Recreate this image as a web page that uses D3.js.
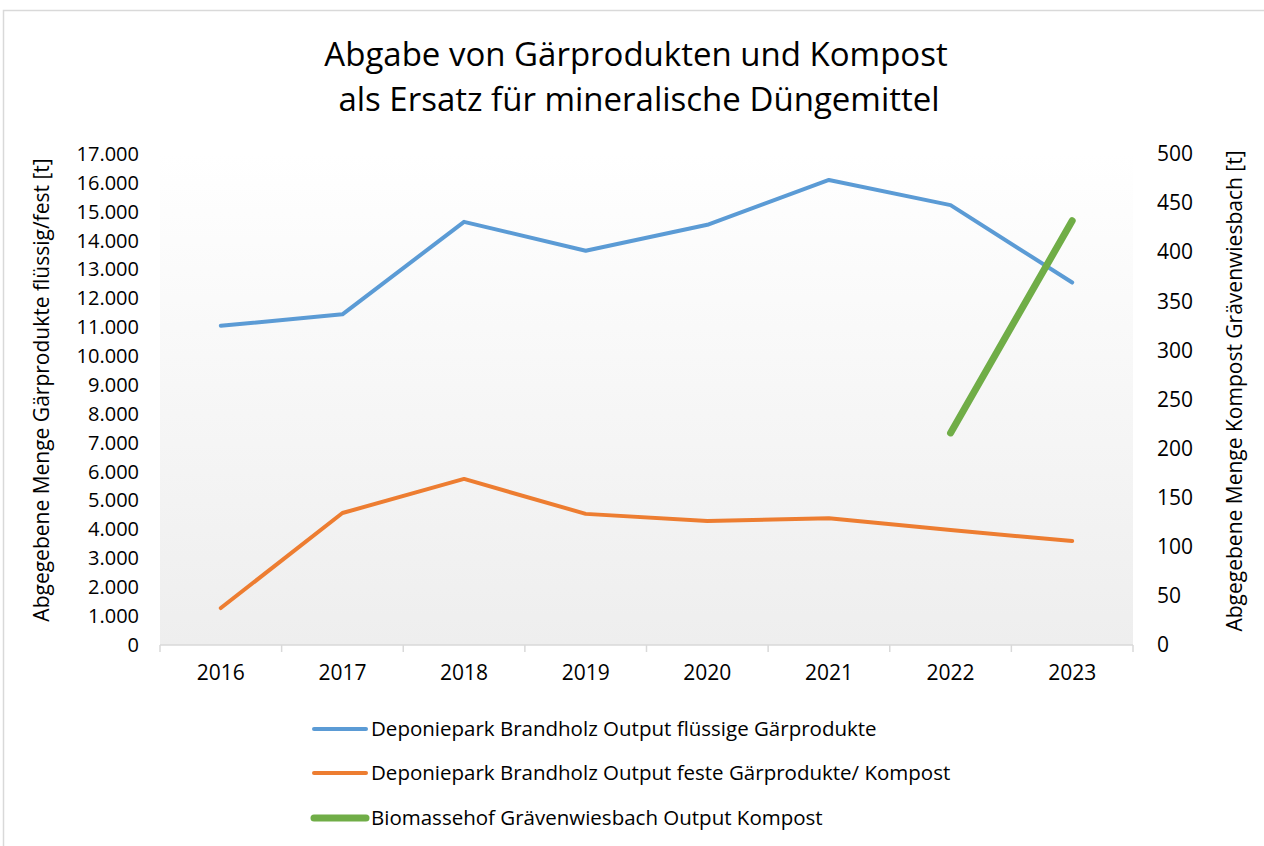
<!DOCTYPE html>
<html>
<head>
<meta charset="utf-8">
<script src="https://cdn.jsdelivr.net/npm/d3@7"></script>
<style>
  body { margin: 0; background: #fff; }
  svg { display: block; font-family: "Open Sans", sans-serif; }
</style>
</head>
<body>
<script>
// chart data
const years = ["2016", "2017", "2018", "2019", "2020", "2021", "2022", "2023"];
const fluessig = [11050, 11450, 14650, 13650, 14550, 16100, 15230, 12550];
const fest = [1280, 4570, 5750, 4540, 4290, 4390, 3980, 3600];
const kompost = [null, null, null, null, null, null, 216, 432];
const leftTicks = d3.range(0, 17001, 1000);
const rightTicks = d3.range(0, 501, 50);

const seriesNames = [
  "Deponiepark Brandholz Output flüssige Gärprodukte",
  "Deponiepark Brandholz Output feste Gärprodukte/ Kompost",
  "Biomassehof Grävenwiesbach Output Kompost"
];

const width = 1264, height = 846;
const plot = {left: 160, right: 1133, top: 154, bottom: 645};

const de = d3.formatLocale({decimal: ",", thousands: ".", grouping: [3], currency: ["", " €"]});
const fmt = de.format(",");

const svg = d3.select("body").append("svg")
  .attr("width", width)
  .attr("height", height);

// plot area gradient
const grad = svg.append("defs").append("linearGradient")
  .attr("id", "plotbg")
  .attr("x1", 0).attr("y1", 0).attr("x2", 0).attr("y2", 1);
grad.append("stop").attr("offset", "0%").attr("stop-color", "#ffffff");
grad.append("stop").attr("offset", "100%").attr("stop-color", "#eeeeee");

// outer chart border
svg.append("rect")
  .attr("x", 3.5).attr("y", 10.5)
  .attr("width", 1400).attr("height", 1000)
  .attr("fill", "#fff")
  .attr("stroke", "#d9d9d9")
  .attr("stroke-width", 1.5);

svg.append("rect")
  .attr("x", plot.left).attr("y", plot.top)
  .attr("width", plot.right - plot.left)
  .attr("height", plot.bottom - plot.top)
  .attr("fill", "url(#plotbg)");

const x = d3.scaleBand().domain(years).range([plot.left, plot.right]);
const yL = d3.scaleLinear().domain([0, 17000]).range([plot.bottom, plot.top]);
const yR = d3.scaleLinear().domain([0, 500]).range([plot.bottom, plot.top]);

// title
svg.append("text")
  .attr("x", 636).attr("y", 66)
  .attr("text-anchor", "middle")
  .style("font-size", "33px")
  .attr("fill", "#000")
  .text("Abgabe von Gärprodukten und Kompost");
svg.append("text")
  .attr("x", 639).attr("y", 111)
  .attr("text-anchor", "middle")
  .style("font-size", "33px")
  .attr("fill", "#000")
  .text("als Ersatz für mineralische Düngemittel");

// left axis
const leftAxis = svg.append("g")
  .attr("transform", `translate(${plot.left},0)`)
  .call(d3.axisLeft(yL).tickValues(leftTicks).tickFormat(fmt).tickSize(0).tickPadding(21));
leftAxis.select(".domain").remove();
leftAxis.selectAll("text")
  .style("font-size", "20px")
  .style("font-family", "Open Sans")
  .attr("fill", "#000");

// right axis
const rightAxis = svg.append("g")
  .attr("transform", `translate(${plot.right},0)`)
  .call(d3.axisRight(yR).tickValues(rightTicks).tickSize(0).tickPadding(24));
rightAxis.select(".domain").remove();
rightAxis.selectAll("text")
  .style("font-size", "21px")
  .style("font-family", "Open Sans")
  .attr("fill", "#000");

// bottom axis
const bottomAxis = svg.append("g")
  .attr("transform", `translate(0,${plot.bottom})`)
  .call(d3.axisBottom(x).tickSize(0).tickPadding(20));
bottomAxis.select(".domain").remove();
bottomAxis.selectAll("text")
  .style("font-size", "21px")
  .style("font-family", "Open Sans")
  .attr("fill", "#000");

svg.append("line")
  .attr("x1", plot.left).attr("x2", plot.right)
  .attr("y1", plot.bottom).attr("y2", plot.bottom)
  .attr("stroke", "#d9d9d9").attr("stroke-width", 1.5);

const bounds = years.map(d => x(d)).concat([plot.right]);
svg.append("g").selectAll("line")
  .data(bounds)
  .join("line")
  .attr("x1", d => d).attr("x2", d => d)
  .attr("y1", plot.bottom).attr("y2", plot.bottom + 7)
  .attr("stroke", "#d9d9d9").attr("stroke-width", 1.5);

// axis titles
svg.append("text")
  .attr("transform", "translate(49,390) rotate(-90)")
  .attr("text-anchor", "middle")
  .style("font-size", "21px")
  .attr("fill", "#000")
  .text("Abgegebene Menge Gärprodukte flüssig/fest [t]");
svg.append("text")
  .attr("transform", "translate(1242,391) rotate(-90)")
  .attr("text-anchor", "middle")
  .style("font-size", "21px")
  .attr("fill", "#000")
  .text("Abgegebene Menge Kompost Grävenwiesbach [t]");

// lines
const cx = d => x(d) + x.bandwidth() / 2;
const series = [
  {values: fluessig, scale: yL, color: "#5b9bd5", w: 4},
  {values: fest, scale: yL, color: "#ed7d31", w: 4},
  {values: kompost, scale: yR, color: "#70ad47", w: 7}
];

series.forEach(s => {
  const line = d3.line()
    .defined(d => d[1] != null)
    .x(d => cx(d[0]))
    .y(d => s.scale(d[1]));
  svg.append("path")
    .datum(years.map((y, i) => [y, s.values[i]]))
    .attr("d", line)
    .attr("fill", "none")
    .attr("stroke", s.color)
    .attr("stroke-width", s.w)
    .attr("stroke-linecap", "round")
    .attr("stroke-linejoin", "round");
});

// legend
const legend = svg.append("g");
const legendY = [729, 773, 818];
series.forEach((s, i) => {
  const g = legend.append("g").attr("transform", `translate(0,${legendY[i]})`);
  g.append("line")
    .attr("x1", 314).attr("x2", 366)
    .attr("stroke", s.color)
    .attr("stroke-width", s.w)
    .attr("stroke-linecap", "round");
  g.append("text")
    .attr("x", 371).attr("y", 7)
    .style("font-size", "20.5px")
    .attr("fill", "#000")
    .text(seriesNames[i]);
});
</script>
</body>
</html>
